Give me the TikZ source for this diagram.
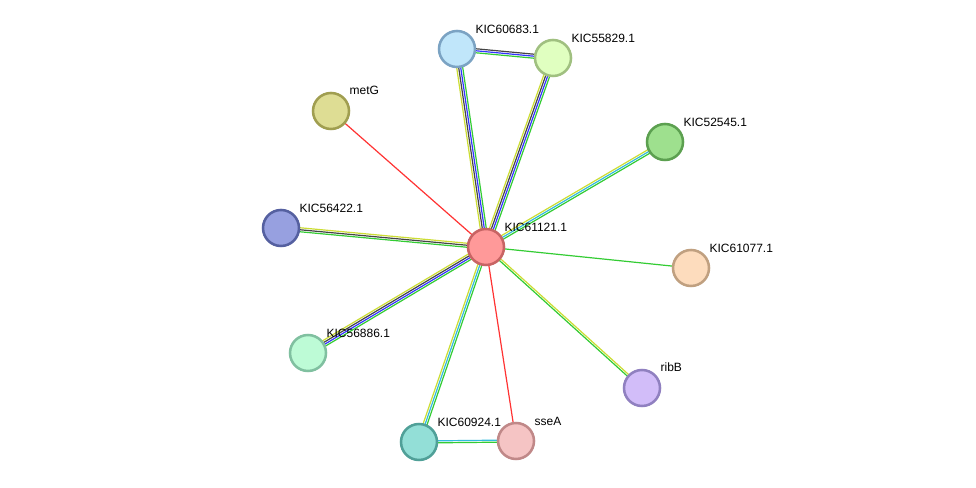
\documentclass[tikz,border=0pt]{standalone}
\usepackage{fontspec}
\setmainfont{Liberation Sans}
\usetikzlibrary{calc}
\definecolor{eg}{HTML}{33CC33}\definecolor{eb}{HTML}{3333FF}\definecolor{ek}{HTML}{444444}
\definecolor{ey}{HTML}{CCDD33}\definecolor{ec}{HTML}{33BBDD}\definecolor{er}{HTML}{FF3333}
\newcommand{\medge}[3]{%
  \foreach \c [count=\i] in {#3} {\xdef\nn{\i}}%
  \foreach \c [count=\i] in {#3} {%
    \pgfmathsetmacro{\off}{(\i-(\nn+1)/2)*1.5}%
    \draw[\c,line width=0.9pt] ($(#1)!\off pt!90:(#2)$) -- ($(#2)!\off pt!-90:(#1)$);}}
\tikzset{pn/.style 2 args={circle,minimum size=36pt*0.75,inner sep=0pt,line width=1.9pt,
   fill/.expanded={rgb,255:red,0;green,0;blue,0}, /utils/exec={\definecolor{tf}{HTML}{#1}\definecolor{td}{HTML}{#2}},fill=tf,draw=td},
  lb/.style={font=\fontsize{9}{10}\selectfont,anchor=south west,inner sep=1pt}}
\newcommand{\pnode}[4]{\definecolor{tf#1}{HTML}{#3}\definecolor{td#1}{HTML}{#4}%
  \node[circle,minimum size=27pt,inner sep=0pt,line width=1.9pt,fill=tf#1,draw=td#1] (n#1) at (#2) {};}
\begin{document}
\begin{tikzpicture}[x=0.75pt,y=-0.75pt]
\useasboundingbox[fill=white] (0,0) rectangle (976,488);
\coordinate (c) at (486,247);
\coordinate (p1) at (457,49); \coordinate (p2) at (553,58); \coordinate (p3) at (331,111);
\coordinate (p4) at (665,142); \coordinate (p5) at (281,228); \coordinate (p6) at (691,268);
\coordinate (p7) at (308,353); \coordinate (p8) at (642,388); \coordinate (p9) at (419,442);
\coordinate (p10) at (516,441);
\medge{c}{p1}{eg,eb,ek,ey}
\medge{c}{p2}{eg,eb,ek,ey}
\medge{p1}{p2}{eg,eb,ek}
\medge{c}{p3}{er}
\medge{c}{p4}{eg,ec,ey}
\medge{c}{p5}{ey,ek,eg}
\medge{c}{p6}{eg}
\medge{c}{p7}{ey,ek,eb,eg}
\medge{c}{p8}{eg,ey}
\medge{c}{p9}{ey,ec,eg}
\medge{c}{p10}{er}
\medge{p9}{p10}{eg,ec}
\pnode{0}{c}{FF9999}{C86464}
\pnode{1}{p1}{C0E6FA}{7BA3C3}
\pnode{2}{p2}{E0FFC0}{A0C080}
\pnode{3}{p3}{DEDD94}{A09E50}
\pnode{4}{p4}{9EE08E}{5CA050}
\pnode{5}{p5}{97A0E0}{5560A0}
\pnode{6}{p6}{FDDCBD}{C0A080}
\pnode{7}{p7}{BDFBD6}{80C0A0}
\pnode{8}{p8}{D2BDF9}{9080C0}
\pnode{9}{p9}{93DFD7}{50A098}
\pnode{10}{p10}{F5C4C4}{C08888}
\node[lb] (l0) at (503,233) {KIC61121.1};
\node[lb] (l1) at (474,35) {KIC60683.1};
\node[lb] (l2) at (570,44) {KIC55829.1};
\node[lb] (l3) at (348,96) {metG};
\node[lb] (l4) at (682,128) {KIC52545.1};
\node[lb] (l5) at (298,214) {KIC56422.1};
\node[lb] (l6) at (708,254) {KIC61077.1};
\node[lb] (l7) at (325,339) {KIC56886.1};
\node[lb] (l8) at (659,373) {ribB};
\node[lb] (l9) at (436,428) {KIC60924.1};
\node[lb] (l10) at (533,427) {sseA};
\end{tikzpicture}
\end{document}
